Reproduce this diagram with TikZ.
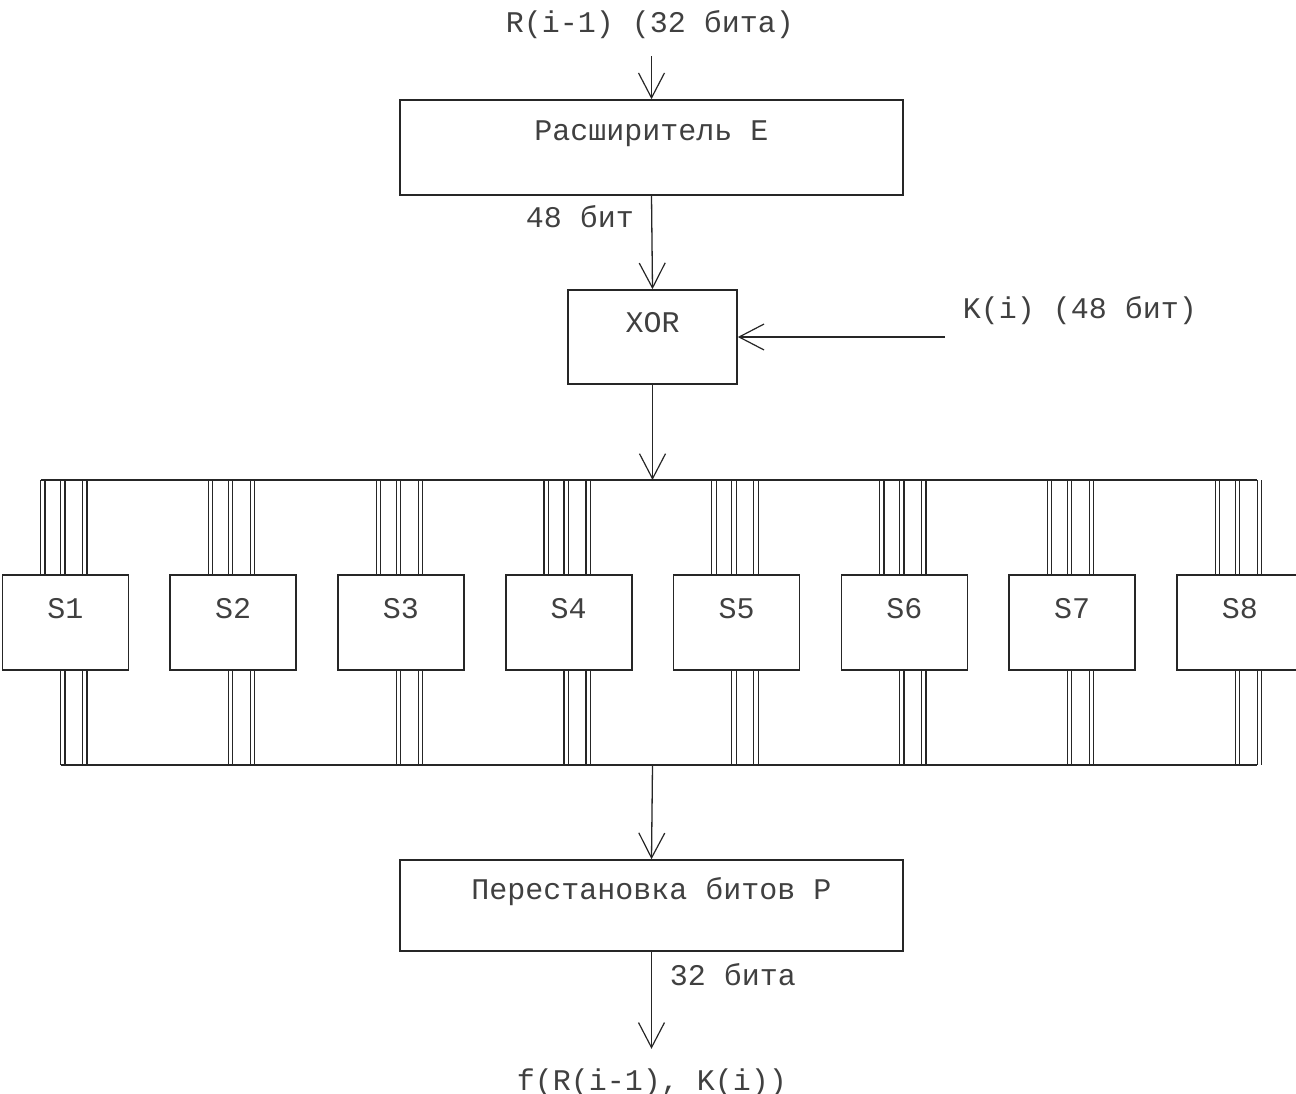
\documentclass[tikz,border=0pt]{standalone}
\usepackage{fontspec}
\setmonofont{Liberation Mono}
\usetikzlibrary{arrows.meta}

\begin{document}
\begin{tikzpicture}[
  x=1pt, y=-1pt,
  ink/.style={draw=black!85},
  txt/.style={font=\fontsize{30}{34}\selectfont\ttfamily, text=black!75, inner sep=0pt},
  block/.style={ink, line width=1.6pt, rectangle, inner sep=0pt},
  caption/.style={label={[txt, yshift=14pt]center:#1}},
  wire/.style={ink, line width=1.2pt},
  arr/.style={ink, line width=1.3pt, -{Straight Barb[length=25pt, width=26pt, line width=1.2pt]}},
]
\useasboundingbox (0,0) rectangle (1296,1094);

% input and expansion
\node[txt] (rin) at (650,25) {R(i-1) (32 бита)};
\node[block, minimum width=503pt, minimum height=95pt, caption={Расширитель E}] (E) at (651.5,147.5) {};
\draw[arr] ([yshift=-17pt]rin.south -| E.north) -- (E.north);

\node[txt] (l48) at (580,217) {48 бит};

% key mixing
\node[block, minimum width=169pt, minimum height=94pt, caption={XOR}] (X) at (652.5,337) {};
\draw[arr] (E.south) -- (X.north);
\node[txt] (kin) at (1080,311) {K(i) (48 бит)};
\coordinate (kstart) at (945,337);
\draw[arr] (kstart) -- (X.east);

% buses above and below the S-boxes
\coordinate (busT) at (652.5,480);
\coordinate (busB) at (652.5,765);
\draw[arr] (X.south) -- (busT);

% eight S-boxes
\foreach \i in {1,...,8} {
  \pgfmathsetmacro{\lx}{1.5 + 167.8*(\i-1)}
  \node[block, minimum width=126pt, minimum height=95pt, anchor=north west, caption={S\i}] (S\i) at (\lx,574) {};
  % six input lines (three pairs)
  \foreach \o in {39,43.5,59,63.5,81,85.5}
    \draw[wire] ([xshift=\o pt]S\i.north west) -- ([xshift=\o pt]S\i.north west |- busT);
  % four output lines (two pairs)
  \foreach \o in {59,63.5,81,85.5}
    \draw[wire] ([xshift=\o pt]S\i.south west) -- ([xshift=\o pt]S\i.south west |- busB);
}
\draw[wire] ([xshift=39pt]S1.north west |- busT) -- ([xshift=81pt]S8.north west |- busT);
\draw[wire] ([xshift=59pt]S1.south west |- busB) -- ([xshift=81pt]S8.south west |- busB);

% permutation and output
\node[block, minimum width=503pt, minimum height=91pt, caption={Перестановка битов P}] (P) at (651.5,905.5) {};
\draw[arr] (busB) -- (P.north);
\node[txt] (l32) at (733,975) {32 бита};
\node[txt] (fout) at (652,1083) {f(R(i-1), K(i))};
\draw[arr] (P.south) -- ([yshift=20pt]fout.north -| P.south);
\end{tikzpicture}
\end{document}
